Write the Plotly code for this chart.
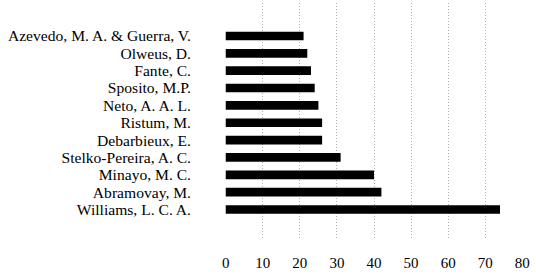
import plotly.graph_objects as go

authors = ["Williams, L. C. A.", "Abramovay, M.", "Minayo, M. C.", "Stelko-Pereira, A. C.",
           "Debarbieux, E.", "Ristum, M.", "Neto, A. A. L.", "Sposito, M.P.",
           "Fante, C.", "Olweus, D.", "Azevedo, M. A. & Guerra, V."]
counts = [74, 42, 40, 31, 26, 26, 25, 24, 23, 22, 21]
x_ticks = [0, 10, 20, 30, 40, 50, 60, 70, 80]

font_family = "Liberation Serif"

fig = go.Figure(go.Bar(
    x=counts, y=authors, orientation="h",
    marker=dict(color="#000000", line=dict(width=0)),
    width=0.5,
))

fig.update_layout(
    width=536, height=278,
    margin=dict(l=225, r=13, t=3, b=39),
    paper_bgcolor="white", plot_bgcolor="white",
    font=dict(family=font_family, size=15.6, color="#000000"),
    showlegend=False,
    xaxis=dict(
        range=[-0.2, 80.2], tickvals=x_ticks, ticktext=[str(v) for v in x_ticks],
        showgrid=True, gridcolor="#b0b0b0", griddash="1px,2px", gridwidth=1,
        zeroline=False, showline=False, ticks="", ticklabelstandoff=13,
        tickfont=dict(size=15),
        fixedrange=True,
    ),
    yaxis=dict(
        type="category", categoryorder="array", categoryarray=authors,
        tickmode="array", tickvals=authors, ticktext=authors,
        range=[-1.7, 11.9],
        showgrid=False, zeroline=False, showline=False, ticks="",
        ticklabelstandoff=33,
    ),
)

fig.write_html("out.html")
